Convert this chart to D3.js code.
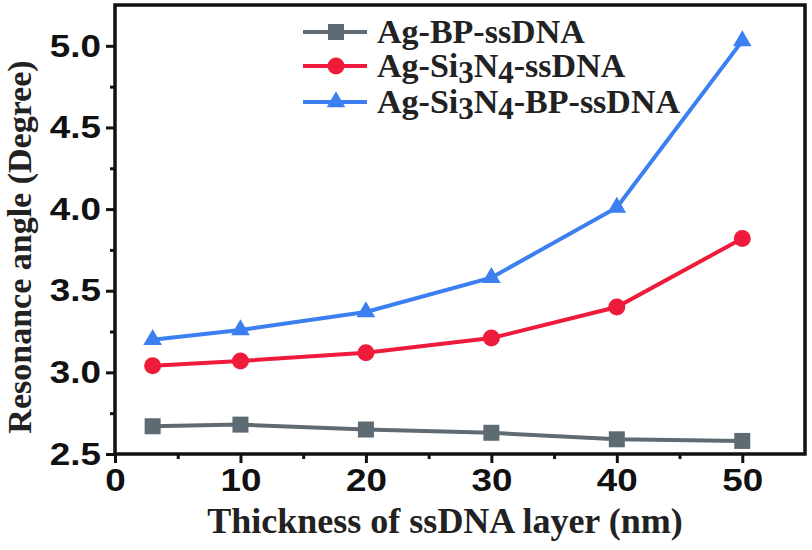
<!DOCTYPE html>
<html>
<head>
<meta charset="utf-8">
<script src="https://cdn.jsdelivr.net/npm/d3@7"></script>
<style>
  body { margin: 0; background: #fff; }
</style>
</head>
<body>
<script>
// data
var thickness = [3, 10, 20, 30, 40, 50];
var agBP = [2.67, 2.68, 2.65, 2.63, 2.59, 2.58];
var agSiN = [3.04, 3.07, 3.12, 3.21, 3.40, 3.82];
var agSiNBP = [3.20, 3.26, 3.37, 3.58, 4.01, 5.03];
var xTicks = [0, 10, 20, 30, 40, 50];
var xMinor = [5, 15, 25, 35, 45];
var yTicks = [2.5, 3.0, 3.5, 4.0, 4.5, 5.0];
var yMinor = [2.75, 3.25, 3.75, 4.25, 4.75];

var margin = {top: 5, right: 7, bottom: 96, left: 115},
    width = 812 - margin.left - margin.right,
    height = 550 - margin.top - margin.bottom;

var x = d3.scaleLinear().domain([0, 55]).range([0, width]);
var y = d3.scaleLinear().domain([2.5, 5.25]).range([height, 0]);

var svg = d3.select("body").append("svg")
    .attr("width", 812)
    .attr("height", 550)
  .append("g")
    .attr("transform", "translate(" + margin.left + "," + margin.top + ")");

var series = [
  {name: "Ag-BP-ssDNA", values: agBP, color: "#5f6b73", shape: "square"},
  {name: "Ag-Si3N4-ssDNA", values: agSiN, color: "#ef1b3b", shape: "circle"},
  {name: "Ag-Si3N4-BP-ssDNA", values: agSiNBP, color: "#3b7ff0", shape: "triangle"}
];

var line = d3.line()
    .x(function(d) { return x(d[0]); })
    .y(function(d) { return y(d[1]); });

function marker(g, shape, color) {
  if (shape == "square") {
    g.append("rect").attr("x", -8).attr("y", -8).attr("width", 16).attr("height", 16)
      .attr("fill", color);
  } else if (shape == "circle") {
    g.append("circle").attr("r", 8.5).attr("fill", color);
  } else {
    g.append("path").attr("d", d3.symbol().type(d3.symbolTriangle).size(150)())
      .attr("fill", color);
  }
}

series.forEach(function(s) {
  var pts = thickness.map(function(t, i) { return [t, s.values[i]]; });
  svg.append("path")
      .datum(pts)
      .attr("fill", "none")
      .attr("stroke", s.color)
      .attr("stroke-width", 4)
      .attr("d", line);
  pts.forEach(function(p) {
    var g = svg.append("g").attr("transform", "translate(" + x(p[0]) + "," + y(p[1]) + ")");
    marker(g, s.shape, s.color);
  });
});

// axes
svg.append("g")
    .attr("transform", "translate(0," + height + ")")
    .call(d3.axisBottom(x).tickValues(xTicks).tickSize(9).tickPadding(5).tickFormat(d3.format("d")));
svg.append("g")
    .attr("transform", "translate(0," + height + ")")
    .call(d3.axisBottom(x).tickValues(xMinor).tickSize(5).tickFormat(""));

svg.append("g")
    .call(d3.axisLeft(y).tickValues(yTicks).tickSize(9).tickPadding(5).tickFormat(d3.format(".1f")));
svg.append("g")
    .call(d3.axisLeft(y).tickValues(yMinor).tickSize(5).tickFormat(""));

svg.selectAll(".domain").remove();
svg.selectAll(".tick line").attr("stroke", "#111").attr("stroke-width", 3);
svg.selectAll(".tick text")
    .attr("fill", "#111")
    .style("font-family", "Liberation Sans, Arial, sans-serif")
    .style("font-weight", "bold")
    .style("font-size", "32px")
    .each(function() {
      // the digits in the figure are a bit wider than Arial
      var w = this.getComputedTextLength();
      if (w > 0) d3.select(this).attr("textLength", w * 1.15).attr("lengthAdjust", "spacingAndGlyphs");
    });

// frame
svg.append("rect")
    .attr("width", width)
    .attr("height", height)
    .attr("fill", "none")
    .attr("stroke", "#111")
    .attr("stroke-width", 3.5);

// axis titles
svg.append("text")
    .attr("x", 330)
    .attr("y", height + 79)
    .attr("text-anchor", "middle")
    .style("font-family", "Liberation Serif, Times New Roman, serif")
    .style("font-weight", "bold")
    .style("font-size", "36px")
    .attr("fill", "#222")
    .text("Thickness of ssDNA layer (nm)");

svg.append("text")
    .attr("transform", "translate(" + (-84) + "," + (247 - margin.top) + ") rotate(-90)")
    .attr("text-anchor", "middle")
    .style("font-family", "Liberation Serif, Times New Roman, serif")
    .style("font-weight", "bold")
    .style("font-size", "34px")
    .attr("fill", "#222")
    .text("Resonance angle (Degree)");

// legend
var legendY = [32, 66, 102];
var legend = svg.append("g").attr("transform", "translate(" + (303 - margin.left) + "," + (-margin.top) + ")");
series.forEach(function(s, i) {
  var g = legend.append("g").attr("transform", "translate(0," + legendY[i] + ")");
  g.append("line").attr("x1", 0).attr("x2", 64).attr("stroke", s.color).attr("stroke-width", 4);
  var m = g.append("g").attr("transform", "translate(33,0)");
  marker(m, s.shape, s.color);
  var t = g.append("text")
      .attr("x", 74)
      .attr("y", 11)
      .style("font-family", "Liberation Serif, Times New Roman, serif")
      .style("font-weight", "bold")
      .style("font-size", "34px")
      .attr("fill", "#222");
  // lower the 3 and 4 in Si3N4
  var parts = s.name.split(/(\d)/);
  var low = false;
  parts.forEach(function(p) {
    if (p === "") return;
    if (/\d/.test(p)) {
      t.append("tspan").attr("dy", 6).style("font-size", "31px").text(p);
      low = true;
    } else {
      t.append("tspan").attr("dy", low ? -6 : 0).text(p);
      low = false;
    }
  });
});
</script>
</body>
</html>
